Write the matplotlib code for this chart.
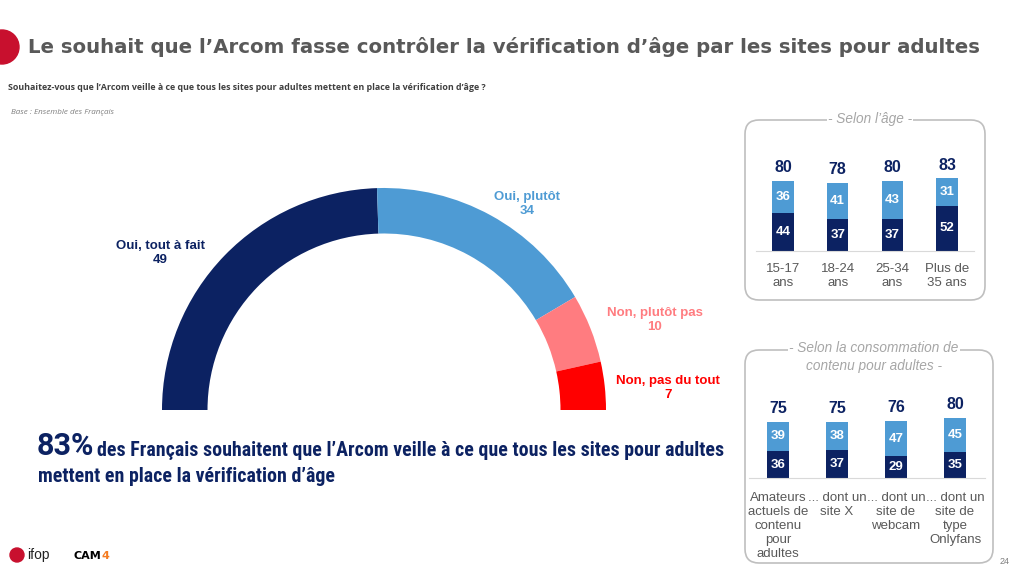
import matplotlib
matplotlib.use("Agg")
import matplotlib.pyplot as plt
from matplotlib.patches import FancyBboxPatch, Circle

# donut data
answers = ["Oui, tout à fait", "Oui, plutôt", "Non, plutôt pas", "Non, pas du tout"]
shares = [49, 34, 10, 7]

# age panel
age_labels = ["15-17\nans", "18-24\nans", "25-34\nans", "Plus de\n35 ans"]
age_tout = [44, 37, 37, 52]
age_plutot = [36, 41, 43, 31]
age_total = [80, 78, 80, 83]

# consumption panel
conso_labels = ["Amateurs\nactuels de\ncontenu\npour\nadultes", "... dont un\nsite X",
                "... dont un\nsite de\nwebcam", "... dont un\nsite de\ntype\nOnlyfans"]
conso_tout = [36, 37, 29, 35]
conso_plutot = [39, 38, 47, 45]
conso_total = [75, 75, 76, 80]

NAVY = "#0C2262"
LBLUE = "#4E9BD4"
PINK = "#FF7C80"
RED = "#FF0000"
GREY = "#595959"
seg_colors = [NAVY, LBLUE, PINK, RED]

W, H = 1024, 576
fig = plt.figure(figsize=(W / 100, H / 100), dpi=100)
plt.rcParams['font.family'] = ['Liberation Sans', 'DejaVu Sans']


def px(x0, y0, w, h):
    # pixel box (top-left origin) -> figure fraction
    return [x0 / W, 1 - (y0 + h) / H, w / W, h / H]


ov = fig.add_axes([0, 0, 1, 1])
ov.set_xlim(0, W)
ov.set_ylim(H, 0)
ov.axis("off")

# title
ov.add_patch(Circle((2, 47), 17, color="#C8102E", clip_on=False))
ov.text(28, 47, "Le souhait que l\u2019Arcom fasse contrôler la vérification d\u2019âge par les sites pour adultes",
        fontsize=14.2, fontweight="bold", color=GREY, va="center", family="DejaVu Sans")
ov.text(8, 87, "Souhaitez-vous que l\u2019Arcom veille à ce que tous les sites pour adultes mettent en place la vérification d\u2019âge ?",
        fontsize=6.4, fontweight="bold", color="#404040", va="center", family="Open Sans")
ov.text(11, 112, "Base : Ensemble des Français", fontsize=5.8, style="italic", color="#7F7F7F",
        va="center", family="Open Sans")

# donut
cx, cy, r = 384, 410, 222
axd = fig.add_axes(px(cx - r, cy - r, 2 * r, 2 * r))
wedges, _ = axd.pie(shares + [sum(shares)], colors=seg_colors + ["white"], startangle=180,
                    counterclock=False, wedgeprops=dict(width=0.205, edgecolor="none"))
wedges[-1].set_visible(False)
axd.set_xlim(-1, 1)
axd.set_ylim(-1, 1)
axd.set_aspect("auto")

label_pos = [(160, 253), (527, 204), (655, 320), (668, 388)]
for name, v, (x, y), c in zip(answers, shares, label_pos, seg_colors):
    ov.text(x, y, f"{name}\n{v}", color=c, fontsize=9.5, fontweight="bold", ha="center", va="center",
            linespacing=1.2)

# key figure
ov.text(37, 446, "83%", fontsize=22, fontweight="bold", color=NAVY, va="center", family="Roboto")
ov.text(97, 450, "des Français souhaitent que l\u2019Arcom veille à ce que tous les sites pour adultes",
        fontsize=14.3, fontweight="bold", color=NAVY, va="center", family="Roboto Condensed")
ov.text(38, 477, "mettent en place la vérification d\u2019âge",
        fontsize=14.3, fontweight="bold", color=NAVY, va="center", family="Roboto Condensed")

# panels
def panel(box, title, title_y, centers, base_y, ppu, bw, tout, plutot, total, labels, pad, ls):
    x0, y0, x1, y1 = box
    ov.add_patch(FancyBboxPatch((x0, y0), x1 - x0, y1 - y0,
                                boxstyle="round,pad=0,rounding_size=14",
                                fc="none", ec="#BFBFBF", lw=1.2))
    ov.text((x0 + x1) / 2 + 5, title_y, title, ha="center", va="center", fontsize=9.8,
            style="italic", color="#A6A6A6", linespacing=1.35,
            bbox=dict(fc="white", ec="none", pad=1))
    step = (centers[-1] - centers[0]) / (len(centers) - 1)
    left = centers[0] - step / 2
    ax = fig.add_axes(px(left, base_y - 100 * ppu, step * len(centers), 100 * ppu))
    ax.patch.set_alpha(0)
    xs = range(len(tout))
    ax.bar(xs, tout, width=bw, color=NAVY)
    ax.bar(xs, plutot, bottom=tout, width=bw, color=LBLUE)
    for i in xs:
        ax.text(i, tout[i] / 2, str(tout[i]), ha="center", va="center", color="white",
                fontsize=9.5, fontweight="bold")
        ax.text(i, tout[i] + plutot[i] / 2, str(plutot[i]), ha="center", va="center",
                color="white", fontsize=9.5, fontweight="bold")
        ax.annotate(str(total[i]), (i, total[i]), xytext=(0, 4), textcoords="offset points",
                    ha="center", va="bottom", color=NAVY, fontsize=11.5, fontweight="bold")
    ax.set_xlim(-0.5, len(tout) - 0.5)
    ax.set_ylim(0, 100)
    ax.set_xticks(list(xs))
    ax.set_xticklabels(labels, fontsize=9.5, color=GREY, linespacing=ls)
    ax.tick_params(axis="x", length=0, pad=pad)
    ax.set_yticks([])
    for s in ["top", "left", "right"]:
        ax.spines[s].set_visible(False)
    ax.spines["bottom"].set_color("#D9D9D9")


panel((745, 120, 985, 300), "- Selon l\u2019âge -", 119, [783, 837, 892, 947], 251, 0.875, 0.39,
      age_tout, age_plutot, age_total, age_labels, 9, 1.12)
panel((745, 350, 993, 563), "- Selon la consommation de\ncontenu pour adultes -", 357,
      [778, 837, 896, 955], 478, 0.75, 0.38,
      conso_tout, conso_plutot, conso_total, conso_labels, 10, 1.22)

# footer
ov.add_patch(Circle((17, 555), 7, color="#C8102E"))
ov.text(27, 555, "ifop", fontsize=10, color="#222222", va="center")
ov.text(74, 556, "CAM", fontsize=8, fontweight="bold", color="black", va="center", family="DejaVu Sans")
ov.text(101, 556, "4", fontsize=8, fontweight="bold", color="#F47B20", va="center", family="DejaVu Sans")
ov.text(1005, 561, "24", fontsize=6.5, color="#7F7F7F", va="center", ha="center")

fig.savefig("out.png", dpi=100)
